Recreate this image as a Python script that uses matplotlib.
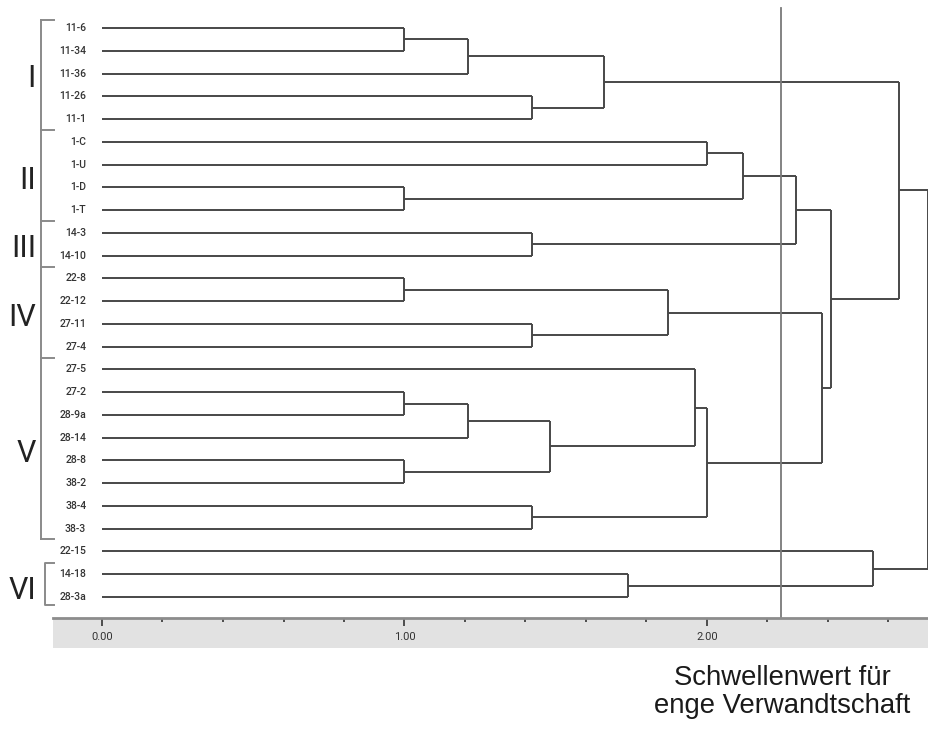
import matplotlib
matplotlib.use("Agg")
import matplotlib.pyplot as plt
from matplotlib.ticker import MultipleLocator

leaves = ['11-6', '11-34', '11-36', '11-26', '11-1', '1-C', '1-U', '1-D', '1-T',
          '14-3', '14-10', '22-8', '22-12', '27-11', '27-4', '27-5', '27-2',
          '28-9a', '28-14', '28-8', '38-2', '38-4', '38-3', '22-15', '14-18', '28-3a']

# merges: (left, right, height); ints are leaf indices, strings are earlier nodes
merges = {
    'n1': (0, 1, 1.00),
    'n2': ('n1', 2, 1.21),
    'n3': (3, 4, 1.42),
    'n4': ('n2', 'n3', 1.66),
    'n5': (5, 6, 2.00),
    'n6': (7, 8, 1.00),
    'n7': ('n5', 'n6', 2.12),
    'n8': (9, 10, 1.42),
    'n9': ('n7', 'n8', 2.295),
    'n10': (11, 12, 1.00),
    'n11': (13, 14, 1.42),
    'n12': ('n10', 'n11', 1.87),
    'n13': (16, 17, 1.00),
    'n14': ('n13', 18, 1.21),
    'n15': (19, 20, 1.00),
    'n16': ('n14', 'n15', 1.48),
    'n17': (15, 'n16', 1.96),
    'n18': (21, 22, 1.42),
    'n19': ('n17', 'n18', 2.00),
    'n20': ('n12', 'n19', 2.38),
    'n21': ('n9', 'n20', 2.41),
    'n22': ('n4', 'n21', 2.635),
    'n23': (24, 25, 1.74),
    'n24': (23, 'n23', 2.55),
    'n25': ('n22', 'n24', 2.73),
}

groups = ['I', 'II', 'III', 'IV', 'V', 'VI']
group_leaves = [(0, 4), (5, 8), (9, 10), (11, 14), (15, 22), (24, 25)]

threshold = 2.245
threshold_text = 'Schwellenwert für\nenge Verwandtschaft'

W, H = 929, 731
fig = plt.figure(figsize=(W / 100, H / 100), dpi=100)

# px -> data helpers for the layout
x0, xs = 102, 302.5
y0, ys = 28, 22.76
ax = fig.add_axes([0, 0, 1, 1])
ax.set_xlim(-x0 / xs, (W - x0) / xs)
ax.set_ylim((H - y0) / ys, -y0 / ys)
ax.axis('off')

line_col = '#474747'
pos = {}
for i in range(len(leaves)):
    pos[i] = (0.0, float(i))

for name, (a, b, h) in merges.items():
    xa, ya = pos[a]
    xb, yb = pos[b]
    ax.plot([xa, h], [ya, ya], color=line_col, lw=1.4, solid_capstyle='butt')
    ax.plot([xb, h], [yb, yb], color=line_col, lw=1.4, solid_capstyle='butt')
    ax.plot([h, h], [ya, yb], color=line_col, lw=1.4, solid_capstyle='butt')
    pos[name] = (h, (ya + yb) / 2)

for i, lab in enumerate(leaves):
    ax.text(-0.052, i, lab, ha='right', va='center', fontsize=7.5,
            family='Roboto', fontweight='medium', color='#333333')

# group brackets
br_col = '#8a8a8a'
bx, tx = -0.2, -0.158
ticks = [-0.35, 4.5, 8.5, 10.5, 14.5, 22.45]
ax.plot([bx, bx], [ticks[0], ticks[-1]], color=br_col, lw=1.4)
for t in ticks:
    ax.plot([bx, tx], [t, t], color=br_col, lw=1.4)
bx6 = -0.19
ax.plot([tx, bx6, bx6, tx], [23.5, 23.5, 25.35, 25.35], color=br_col, lw=1.4)

for g, (a, b) in zip(groups, group_leaves):
    ax.text(-0.218, (a + b) / 2 + 0.2, g, ha='right', va='center', fontsize=22,
            family='Roboto', fontweight='normal', color='#222222')

# threshold line
ax.axvline(threshold, ymin=(H - 618) / H, ymax=(H - 8) / H, color='#7a7a7a', lw=1.3)
ax.text(threshold + 0.005, (692 - y0) / ys, threshold_text, ha='center', va='center',
        fontsize=19.8, family='Liberation Sans', color='#1a1a1a', linespacing=1.07)

# scale band
bl, bt, bb = 53, 618, 648
bax = fig.add_axes([bl / W, (H - bb) / H, (W - bl) / W, (bb - bt) / H])
bax.set_xlim((bl - x0) / xs, (W - x0) / xs)
bax.set_ylim(0, 1)
bax.set_facecolor('#e2e2e2')
for s in ['left', 'right', 'bottom']:
    bax.spines[s].set_visible(False)
bax.spines['top'].set_color('#8c8c8c')
bax.spines['top'].set_linewidth(2)
bax.set_yticks([])
bax.xaxis.tick_top()
bax.xaxis.set_major_locator(MultipleLocator(1.0))
bax.xaxis.set_minor_locator(MultipleLocator(0.2))
bax.xaxis.set_major_formatter(lambda v, p: f'{v:.2f}')
bax.tick_params(axis='x', which='major', direction='in', length=6, width=1.2,
                color='#333333', labelsize=8, labelcolor='#333333', pad=-17)
bax.tick_params(axis='x', which='minor', direction='in', length=3, width=1.2,
                color='#333333')
for lab in bax.get_xticklabels():
    lab.set_family('Roboto')

fig.savefig('out.png', dpi=100)
